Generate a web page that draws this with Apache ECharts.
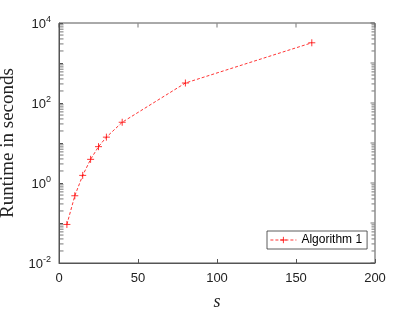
<!DOCTYPE html>
<html><head><meta charset="utf-8">
<script src="https://cdn.jsdelivr.net/npm/echarts@6/dist/echarts.min.js"></script>
<style>html,body{margin:0;padding:0;background:#fff}#c{width:415px;height:312px}</style>
</head><body><div id="c"></div>
<script>
var sValues = [5, 10, 15, 20, 25, 30, 40, 80, 160];
var runtime = [0.092, 0.48, 1.55, 3.9, 8.1, 14, 33, 316, 3200];
var seriesName = 'Algorithm 1';
var xTicks = [0, 50, 100, 150, 200];
var decades = [-2, -1, 0, 1, 2, 3, 4];
var minorMult = [2, 3, 4, 5, 6, 7, 8, 9];

var X_MIN = 0, X_MAX = 200, Y_MIN = 0.01, Y_MAX = 10000;
var minorVals = [];
decades.slice(0, -1).forEach(function (d) { minorMult.forEach(function (m) { minorVals.push(m * Math.pow(10, d)); }); });
var decadeVals = decades.map(function (d) { return Math.pow(10, d); });

var axisColor = '#555';
function tickSeries(points, size, offset) {
  return {
    type: 'scatter', silent: true, clip: false, z: 20,
    data: points, symbol: 'rect', symbolSize: size, symbolOffset: offset,
    itemStyle: {color: axisColor}, emphasis: {disabled: true}, legendHoverLink: false
  };
}
var chart = echarts.init(document.getElementById('c'));
chart.setOption({
  animation: false,
  grid: {left: 59, top: 23, width: 316, height: 240, containLabel: false, outerBoundsMode: 'none',
         show: true, borderColor: axisColor, borderWidth: 1, backgroundColor: 'transparent'},
  legend: {
    left: 267, top: 231, itemWidth: 26, itemHeight: 8,
    padding: [3, 5, 3, 3], itemGap: 4,
    borderColor: '#333', borderWidth: 0.8, backgroundColor: '#fff', borderRadius: 0,
    textStyle: {fontFamily: 'Liberation Sans', fontSize: 12, color: '#000'},
    lineStyle: {width: 0.8}, itemStyle: {borderWidth: 0.8},
    data: [seriesName]
  },
  xAxis: {
    type: 'value', min: X_MIN, max: X_MAX, interval: 50,
    axisLine: {onZero: false, lineStyle: {color: axisColor, width: 1}},
    axisTick: {inside: true, length: 4, lineStyle: {color: axisColor}},
    axisLabel: {fontFamily: 'Liberation Sans', fontSize: 13, color: '#222', margin: 9},
    splitLine: {show: false},
    name: 's', nameLocation: 'middle', nameGap: 30,
    nameTextStyle: {fontFamily: 'Liberation Serif', fontStyle: 'italic', fontSize: 18, color: '#222'}
  },
  yAxis: {
    type: 'log', min: Y_MIN, max: Y_MAX, logBase: 10,
    axisLine: {show: true, onZero: false, lineStyle: {color: axisColor, width: 1}},
    axisTick: {inside: true, length: 4, lineStyle: {color: axisColor}},
    splitLine: {show: false},
    axisLabel: {
      margin: 8,
      formatter: function (v) {
        var e = Math.round(Math.log10(v));
        if (e % 2 !== 0) return '';
        return '{b|10}{s|' + e + '}';
      },
      rich: {
        b: {fontFamily: 'Liberation Sans', fontSize: 13, color: '#222', verticalAlign: 'bottom', lineHeight: 16},
        s: {fontFamily: 'Liberation Sans', fontSize: 9, color: '#222', verticalAlign: 'top', lineHeight: 16, padding: [0, 0, 9, 0]}
      }
    },
    name: 'Runtime in seconds', nameLocation: 'middle', nameGap: 38,
    nameTextStyle: {fontFamily: 'Liberation Serif', fontSize: 19, color: '#222'}
  },
  series: [{
    name: seriesName, type: 'line',
    data: sValues.map(function (x, i) { return [x, runtime[i]]; }),
    lineStyle: {color: '#ff0000', width: 0.8, type: [3, 2]},
    itemStyle: {color: '#ff0000', borderColor: '#ff0000', borderWidth: 0.8},
    symbol: 'path://M5,0 L5,10 M0,5 L10,5', symbolSize: 7,
    showSymbol: true, z: 5
  },
  tickSeries(minorVals.map(function (v) { return [X_MIN, v]; }), [4, 1], [2.5, 0]),
  tickSeries(minorVals.map(function (v) { return [X_MAX, v]; }), [3, 1], [-2, 0]),
  tickSeries(decadeVals.map(function (v) { return [X_MAX, v]; }), [4, 1], [-2.5, 0]),
  tickSeries(xTicks.map(function (x) { return [x, Y_MAX]; }), [1, 4], [0, 2.5])
  ]
});
</script></body></html>
